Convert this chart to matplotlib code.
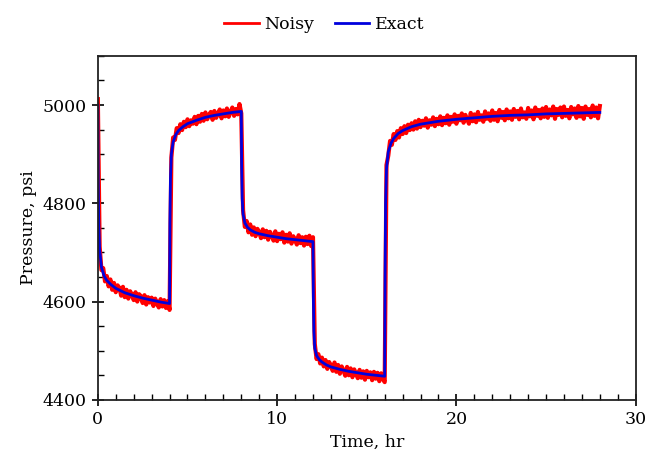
import numpy as np
import matplotlib
matplotlib.use("Agg")
import matplotlib.pyplot as plt
from matplotlib.ticker import MultipleLocator

# exact (model) pressure response
exact_t = [0, 0.02, 0.05, 0.1, 0.2, 0.35, 0.5, 0.75, 1.0, 1.5, 2.0, 2.5, 3.0, 3.5, 4.0,
           4.02, 4.05, 4.1, 4.2, 4.35, 4.5, 4.75, 5.0, 5.5, 6.0, 6.5, 7.0, 7.5, 8.0,
           8.02, 8.05, 8.1, 8.2, 8.35, 8.5, 8.75, 9.0, 9.5, 10.0, 10.5, 11.0, 11.5, 12.0,
           12.02, 12.05, 12.1, 12.2, 12.35, 12.5, 12.75, 13.0, 13.5, 14.0, 14.5, 15.0, 15.5, 16.0,
           16.02, 16.05, 16.1, 16.2, 16.35, 16.5, 16.75, 17.0, 17.5, 18.0, 19.0, 20.0, 21.0,
           22.0, 23.0, 24.0, 25.0, 26.0, 27.0, 28.0]
exact_p = [5000, 4850, 4760, 4705, 4670, 4652, 4643, 4634, 4627, 4618, 4612, 4607, 4603, 4599, 4596,
           4760, 4850, 4900, 4925, 4940, 4948, 4956, 4962, 4969, 4975, 4979, 4982, 4985, 4987,
           4880, 4810, 4778, 4760, 4751, 4746, 4741, 4738, 4734, 4731, 4728, 4726, 4724, 4722,
           4610, 4540, 4505, 4490, 4482, 4477, 4471, 4467, 4462, 4458, 4455, 4452, 4450, 4448,
           4650, 4800, 4870, 4905, 4922, 4932, 4942, 4948, 4956, 4961, 4967, 4971, 4974,
           4977, 4979, 4980, 4982, 4983, 4984, 4985]

# noisy measurements, one every 0.1 hr from 0 to 28 hr
noisy_dt = 0.1
noisy_p = [
    # 0.0 - 4.0
    5012, 4712, 4664, 4668, 4641, 4652, 4631, 4645, 4624, 4638,
    4619, 4633, 4628, 4612, 4630, 4609, 4624, 4606, 4621, 4614,
    4603, 4619, 4600, 4615, 4611, 4597, 4613, 4594, 4609, 4598,
    4608, 4591, 4606, 4596, 4588, 4605, 4590, 4603, 4587, 4601,
    4583,
    # 4.1 - 8.0
    4893, 4934, 4929, 4953, 4943, 4961, 4949, 4966, 4955,
    4971, 4957, 4969, 4962, 4976, 4961, 4978, 4966, 4982, 4968,
    4985, 4971, 4980, 4986, 4970, 4988, 4974, 4983, 4991, 4973,
    4989, 4977, 4993, 4976, 4986, 4995, 4978, 4992, 4981, 5002,
    4983,
    # 8.1 - 12.0
    4786, 4752, 4764, 4741, 4757, 4736, 4751, 4733, 4748,
    4741, 4729, 4747, 4731, 4744, 4726, 4742, 4735, 4724, 4743,
    4723, 4738, 4727, 4741, 4720, 4736, 4722, 4739, 4718, 4733,
    4726, 4716, 4735, 4719, 4731, 4714, 4732, 4717, 4734, 4713,
    4731,
    # 12.1 - 16.0
    4514, 4483, 4493, 4474, 4486, 4468, 4481, 4463, 4477,
    4470, 4459, 4476, 4457, 4471, 4453, 4468, 4460, 4449, 4467,
    4450, 4464, 4446, 4462, 4453, 4444, 4461, 4445, 4458, 4441,
    4459, 4446, 4456, 4440, 4457, 4443, 4455, 4438, 4454, 4442,
    4436,
    # 16.1 - 28.0
    4878, 4897, 4927, 4919, 4941, 4929, 4947, 4934, 4953,
    4941, 4957, 4943, 4960, 4949, 4963, 4950, 4967, 4952, 4970,
    4955, 4968, 4958, 4973, 4954, 4969, 4960, 4975, 4957, 4972,
    4961, 4977, 4959, 4974, 4963, 4979, 4960, 4976, 4966, 4981,
    4962, 4978, 4969, 4983, 4964, 4980, 4971, 4962, 4984, 4967,
    4981, 4965, 4986, 4970, 4979, 4966, 4987, 4972, 4983, 4968,
    4989, 4970, 4984, 4967, 4990, 4974, 4986, 4969, 4991, 4973,
    4987, 4970, 4992, 4976, 4988, 4971, 4993, 4975, 4985, 4972,
    4994, 4977, 4989, 4971, 4995, 4978, 4990, 4973, 4993, 4976,
    4996, 4974, 4991, 4979, 4997, 4972, 4992, 4980, 4995, 4975,
    4997, 4978, 4990, 4973, 4996, 4981, 4993, 4974, 4998, 4977,
    4994, 4972, 4997, 4980, 4992, 4975, 4999, 4978, 4995, 4973,
    4998,
]
noisy_t = np.arange(len(noisy_p)) * noisy_dt

plt.rcParams['font.family'] = 'DejaVu Serif'

fig = plt.figure(figsize=(6.48, 4.66), dpi=100)
ax = fig.add_axes([0.151, 0.142, 0.830, 0.738])

ax.plot(noisy_t, noisy_p, color='#ff0000', lw=3.0, label='Noisy')
ax.plot(exact_t, exact_p, color='#0000dd', lw=2.0, label='Exact')

ax.set_xlim(0, 30)
ax.set_ylim(4400, 5100)
ax.xaxis.set_major_locator(MultipleLocator(10))
ax.xaxis.set_minor_locator(MultipleLocator(1))
ax.yaxis.set_major_locator(MultipleLocator(200))
ax.yaxis.set_minor_locator(MultipleLocator(50))
ax.tick_params(which='major', direction='inout', length=9, width=1.2, labelsize=12.5)
ax.tick_params(which='minor', direction='in', length=4, width=1.0)
ax.tick_params(top=False, right=False, which='both')
for s in ax.spines.values():
    s.set_linewidth(1.3)
    s.set_color('#222222')

ax.set_xlabel('Time, hr', fontsize=12.5)
ax.set_ylabel('Pressure, psi', fontsize=12.5)

leg = fig.legend(loc='upper center', bbox_to_anchor=(0.5, 1.0), ncol=2, frameon=False,
                 fontsize=12.5, handlelength=2.0, columnspacing=1.2, handletextpad=0.3)
for h in leg.get_lines():
    h.set_linewidth(2.0)

fig.savefig('out.png', dpi=100)
